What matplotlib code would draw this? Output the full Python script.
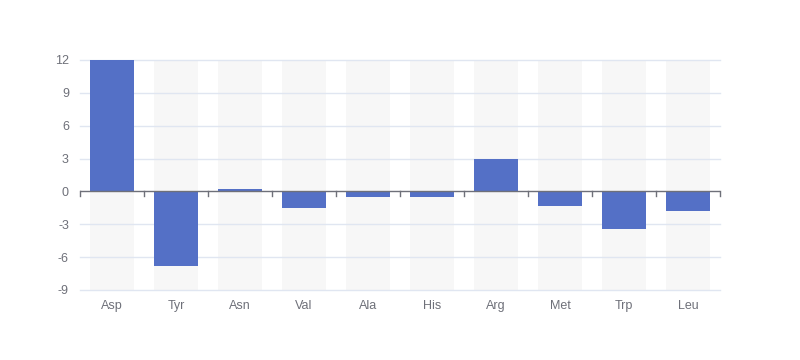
import matplotlib
matplotlib.use("Agg")
import matplotlib.pyplot as plt
import numpy as np

categories = ["Asp", "Tyr", "Asn", "Val", "Ala", "His", "Arg", "Met", "Trp", "Leu"]
values = [12.0, -6.8, 0.2, -1.5, -0.5, -0.5, 3.0, -1.3, -3.4, -1.8]
y_ticks = [-9, -6, -3, 0, 3, 6, 9, 12]

plt.rcParams['font.family'] = ['Liberation Sans', 'DejaVu Sans']
fig = plt.figure(figsize=(8, 3.6), dpi=100)
ax = fig.add_axes([0.1, 1 - 290 / 360, 0.8, 230 / 360])

ymin, ymax = y_ticks[0], y_ticks[-1]
x = np.arange(len(categories))
bw = 44 / 64

ax.bar(x, [ymax - ymin] * len(x), bottom=ymin, width=bw, color="#F7F7F7", zorder=1)
ax.bar(x, values, width=bw, color="#5470C6", zorder=3)

ax.set_xlim(-0.5, len(x) - 0.5)
ax.set_ylim(ymin, ymax)
ax.set_yticks(y_ticks)
ax.set_yticklabels([str(t) for t in y_ticks])
for yt in y_ticks:
    if yt != 0:
        ax.axhline(yt, color="#E0E6F1", lw=1, zorder=2, clip_on=False)
ax.axhline(0, color="#6E7079", lw=1, zorder=4)
tick_len = 5 * (ymax - ymin) / 230
for b in np.arange(len(x) + 1) - 0.5:
    ax.plot([b, b], [0, -tick_len], color="#6E7079", lw=1, zorder=4, clip_on=False)

ax.set_xticks(x)
ax.set_xticklabels(categories)
ax.tick_params(axis='x', length=0, pad=7, colors="#6E7079", labelsize=9)
ax.tick_params(axis='y', length=0, pad=8, colors="#6E7079", labelsize=9)
for s in ax.spines.values():
    s.set_visible(False)

fig.savefig("out.png", dpi=100)
